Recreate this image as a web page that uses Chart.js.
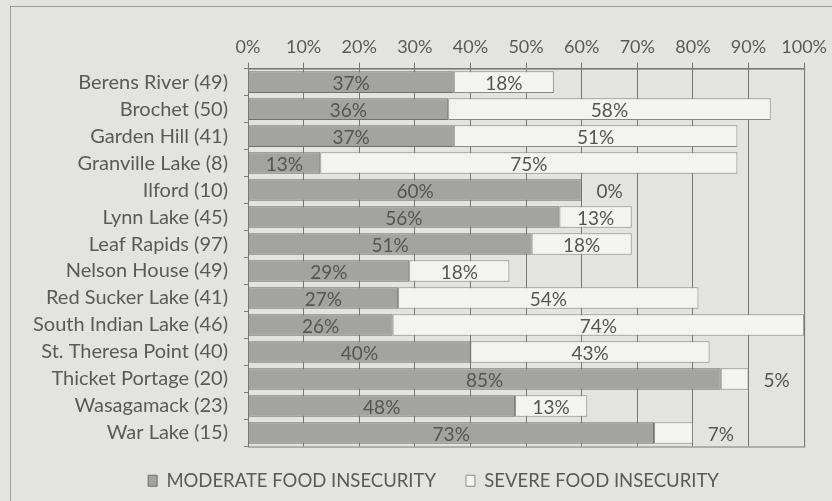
<!DOCTYPE html>
<html>
<head>
<meta charset="utf-8">
<script src="https://cdn.jsdelivr.net/npm/chart.js@4"></script>
<style>
  html, body { margin: 0; padding: 0; background: #e3e3e1; }
  .frame { position: absolute; left: 10px; top: 6px; width: 830px; height: 500px; border: 1px solid #9a9a98; box-sizing: border-box; }
  .wrap { position: absolute; left: 0; top: 0; width: 832px; height: 501px; }
</style>
</head>
<body>
<div class="frame"></div>
<div class="wrap"><canvas id="myChart" width="832" height="501"></canvas></div>
<script>
var communities = ['Berens River (49)', 'Brochet (50)', 'Garden Hill (41)', 'Granville Lake (8)', 'Ilford (10)',
    'Lynn Lake (45)', 'Leaf Rapids (97)', 'Nelson House (49)', 'Red Sucker Lake (41)', 'South Indian Lake (46)',
    'St. Theresa Point (40)', 'Thicket Portage (20)', 'Wasagamack (23)', 'War Lake (15)']
var moderate = [37, 36, 37, 13, 60, 56, 51, 29, 27, 26, 40, 85, 48, 73]
var severe = [18, 58, 51, 75, 0, 13, 18, 18, 54, 74, 43, 5, 13, 7]
var xTicks = [0, 10, 20, 30, 40, 50, 60, 70, 80, 90, 100]

var textColor = '#5a5a5a'
var fontName = 'Lato'

// draws the % numbers on the bars, small severe ones go outside the stack
var barLabels = {
    id: 'barLabels',
    afterDatasetsDraw: function (chart) {
        var ctx = chart.ctx
        ctx.save()
        ctx.font = '19px ' + fontName
        ctx.fillStyle = '#555'
        ctx.textAlign = 'center'
        ctx.textBaseline = 'middle'
        chart.data.datasets.forEach(function (ds, d) {
            var meta = chart.getDatasetMeta(d)
            meta.data.forEach(function (bar, i) {
                var v = ds.data[i]
                var x = (bar.x + bar.base) / 2
                if (d == 1 && v < 10) {
                    x = bar.x + 28
                }
                ctx.fillText(v + '%', x, bar.y + 2)
            })
        })
        ctx.restore()
    }
}

// box around the plot area
var plotBorder = {
    id: 'plotBorder',
    beforeDatasetsDraw: function (chart) {
        var a = chart.chartArea
        var ctx = chart.ctx
        ctx.save()
        ctx.strokeStyle = '#7a7a7a'
        ctx.lineWidth = 1
        ctx.strokeRect(a.left + 0.5, a.top + 0.5, a.right - a.left, a.bottom - a.top)
        ctx.restore()
    }
}

// legend sits a bit right of the canvas centre in the original
var legendShift = {
    id: 'legendShift',
    afterLayout: function (chart) {
        chart.legend.left += 24
        chart.legend.right += 24
        chart.legend.top -= 5
        chart.legend.bottom -= 5
    }
}

var ctx = document.getElementById('myChart').getContext('2d')
var myChart = new Chart(ctx, {
    type: 'bar',
    data: {
        labels: communities,
        datasets: [{
            label: 'MODERATE FOOD INSECURITY',
            data: moderate,
            backgroundColor: '#a3a3a1',
            borderColor: '#6f6f6f',
            borderWidth: 1,
            borderSkipped: false,
            categoryPercentage: 0.8,
            barPercentage: 1
        }, {
            label: 'SEVERE FOOD INSECURITY',
            data: severe,
            backgroundColor: '#f3f3f1',
            borderColor: '#8a8a8a',
            borderWidth: 1,
            borderSkipped: false,
            categoryPercentage: 0.8,
            barPercentage: 1
        }]
    },
    options: {
        indexAxis: 'y',
        responsive: false,
        animation: false,
        layout: {
            padding: { left: 14, right: 27, top: 31, bottom: -4 }
        },
        scales: {
            x: {
                position: 'top',
                stacked: true,
                min: 0,
                max: 100,
                afterBuildTicks: function (axis) {
                    axis.ticks = xTicks.map(function (v) { return { value: v } })
                },
                ticks: {
                    color: textColor,
                    font: { family: fontName, size: 18 },
                    padding: 5,
                    callback: function (v) { return v + '%' }
                },
                grid: {
                    color: '#777',
                    tickLength: 6,
                    tickColor: '#777'
                },
                border: { color: '#777' }
            },
            y: {
                stacked: true,
                afterFit: function (axis) {
                    axis.width = 234
                },
                ticks: {
                    color: textColor,
                    font: { family: fontName, size: 20 },
                    padding: 16,
                    autoSkip: false
                },
                grid: {
                    offset: true,
                    drawOnChartArea: false,
                    tickLength: 4,
                    color: '#777'
                },
                border: { color: '#777' }
            }
        },
        plugins: {
            legend: {
                position: 'bottom',
                labels: {
                    color: textColor,
                    font: { family: fontName, size: 18.5 },
                    boxWidth: 9,
                    boxHeight: 11,
                    padding: 30
                }
            },
            tooltip: { enabled: false }
        }
    },
    plugins: [plotBorder, barLabels, legendShift]
})
</script>
</body>
</html>
